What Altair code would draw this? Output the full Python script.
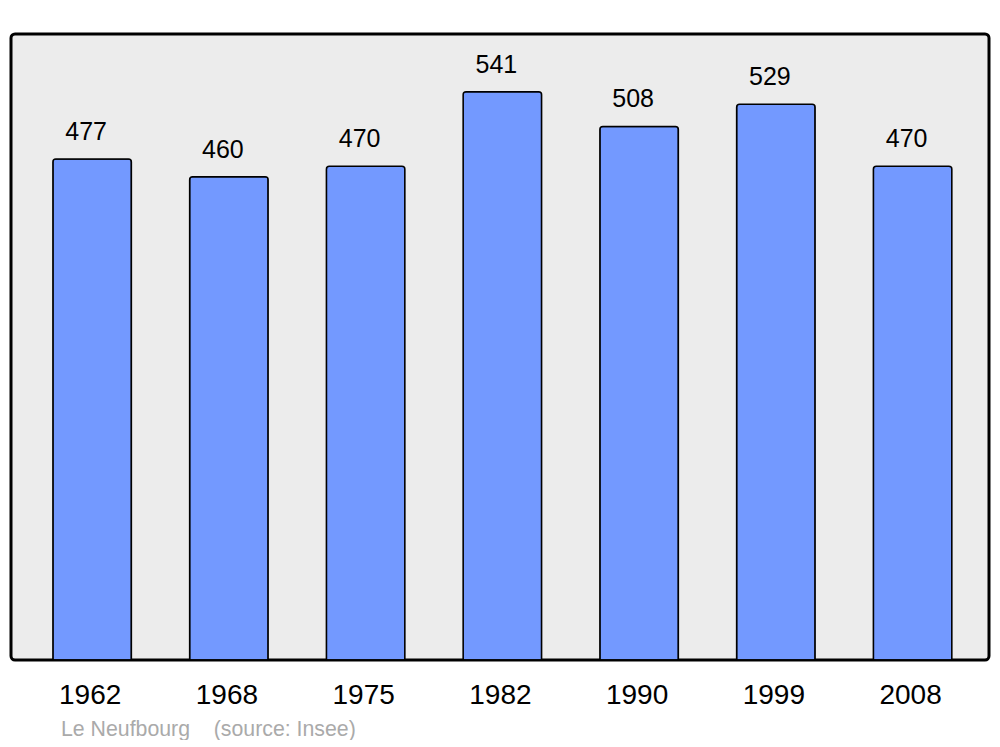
import altair as alt
import pandas as pd

years = ["1962", "1968", "1975", "1982", "1990", "1999", "2008"]
population = [477, 460, 470, 541, 508, 529, 470]
source_text = ["Le Neufbourg\u00a0\u00a0\u00a0\u00a0(source: Insee)"]

df = pd.DataFrame({"year": years, "pop": population})
src = pd.DataFrame({"t": source_text})

FONT = "Liberation Sans"

x = alt.X("year:N", sort=years, title=None,
          scale=alt.Scale(paddingInner=0.426, paddingOuter=0.289, align=0.53),
          axis=alt.Axis(labelAngle=0, ticks=False, domain=False, labelPadding=35,
                        labelBaseline="middle", labelFontSize=28, labelFont=FONT,
                        labelColor="black", labelOffset=-2))
y = alt.Y("pop:Q", title=None, scale=alt.Scale(domain=[0, 596], nice=False),
          axis=None)

bars = alt.Chart(df).mark_bar(color="#7399ff", stroke="black", strokeWidth=1.5,
                              cornerRadiusTopLeft=3, cornerRadiusTopRight=3).encode(x=x, y=y)
labels = alt.Chart(df).mark_text(baseline="middle", dy=-27, dx=-6, fontSize=25, font=FONT,
                                 color="black").encode(x=x, y=y, text="pop:Q")
source = alt.Chart(src).mark_text(align="left", baseline="middle", fontSize=21.3, font=FONT,
                                  color="#aaaaaa").encode(
    x=alt.value(50), y=alt.value(696), text="t:N")

chart = alt.layer(bars, labels, source).properties(
    width=978, height=626,
    autosize=alt.AutoSizeParams(type="none"),
    padding={"left": 3, "top": 26, "right": 3, "bottom": 80},
    background="white",
).configure_view(fill="#ececec", stroke="black", strokeWidth=3, cornerRadius=4)

chart.save("out.html", embed_options={"renderer": "svg", "actions": False})
